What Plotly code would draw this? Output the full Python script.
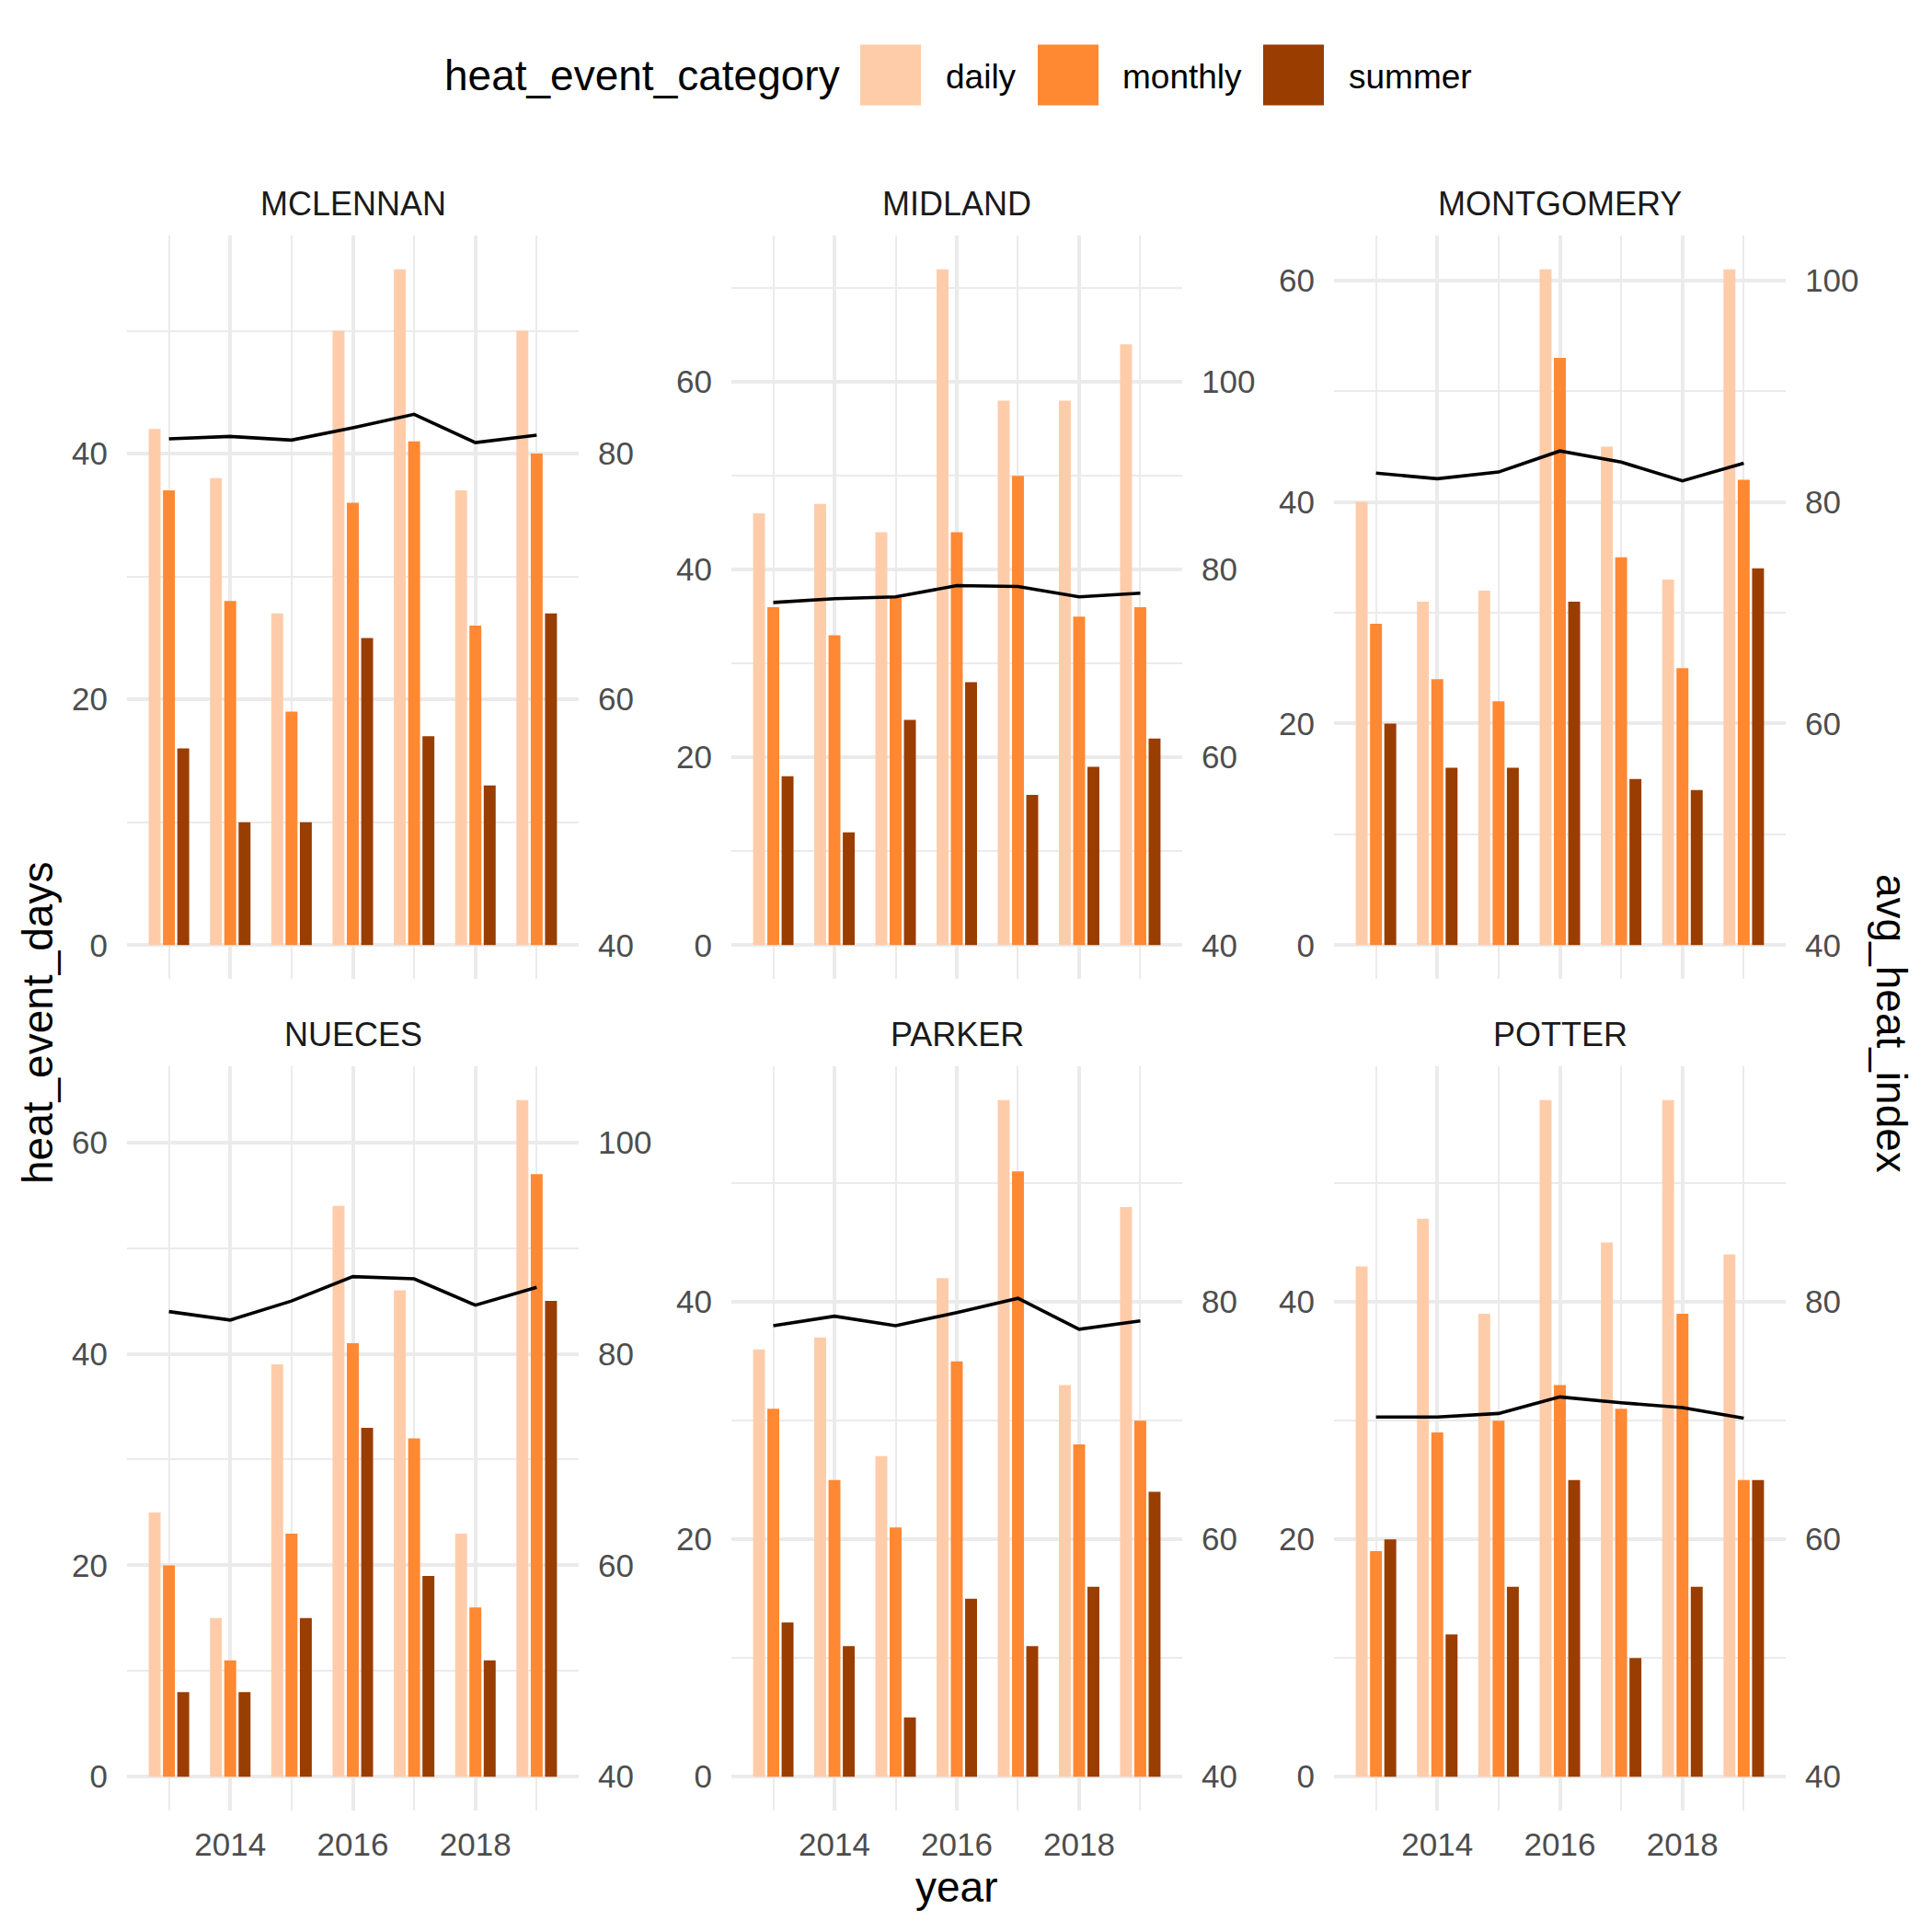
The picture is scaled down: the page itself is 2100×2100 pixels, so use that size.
import plotly.graph_objects as go

# ---------------- data ----------------
years = [2013, 2014, 2015, 2016, 2017, 2018, 2019]
counties = ["MCLENNAN", "MIDLAND", "MONTGOMERY", "NUECES", "PARKER", "POTTER"]
categories = ["daily", "monthly", "summer"]
category_colors = ["#FFCCAA", "#FF8833", "#993D00"]

daily_days = {
    "MCLENNAN":   [42, 38, 27, 50, 55, 37, 50],
    "MIDLAND":    [46, 47, 44, 72, 58, 58, 64],
    "MONTGOMERY": [40, 31, 32, 61, 45, 33, 61],
    "NUECES":     [25, 15, 39, 54, 46, 23, 64],
    "PARKER":     [36, 37, 27, 42, 57, 33, 48],
    "POTTER":     [43, 47, 39, 57, 45, 57, 44],
}
monthly_days = {
    "MCLENNAN":   [37, 28, 19, 36, 41, 26, 40],
    "MIDLAND":    [36, 33, 37, 44, 50, 35, 36],
    "MONTGOMERY": [29, 24, 22, 53, 35, 25, 42],
    "NUECES":     [20, 11, 23, 41, 32, 16, 57],
    "PARKER":     [31, 25, 21, 35, 51, 28, 30],
    "POTTER":     [19, 29, 30, 33, 31, 39, 25],
}
summer_days = {
    "MCLENNAN":   [16, 10, 10, 25, 17, 13, 27],
    "MIDLAND":    [18, 12, 24, 28, 16, 19, 22],
    "MONTGOMERY": [20, 16, 16, 31, 15, 14, 34],
    "NUECES":     [8, 8, 15, 33, 19, 11, 45],
    "PARKER":     [13, 11, 5, 15, 11, 16, 24],
    "POTTER":     [20, 12, 16, 25, 10, 16, 25],
}
avg_heat_index = {
    "MCLENNAN":   [81.2, 81.4, 81.1, 82.1, 83.2, 80.9, 81.5],
    "MIDLAND":    [76.5, 76.9, 77.1, 78.3, 78.2, 77.1, 77.5],
    "MONTGOMERY": [82.6, 82.1, 82.7, 84.6, 83.6, 81.9, 83.5],
    "NUECES":     [84.0, 83.2, 85.0, 87.3, 87.1, 84.6, 86.3],
    "PARKER":     [78.0, 78.8, 78.0, 79.1, 80.3, 77.7, 78.4],
    "POTTER":     [70.3, 70.3, 70.6, 72.0, 71.5, 71.1, 70.2],
}
sec_offset = 40  # secondary axis = primary + 40

# ---------------- layout helpers ----------------
W = H = 2100
FONT = "Liberation Sans"
GRID = "#EBEBEB"
TICKC = "#4D4D4D"

col_px = [(138, 629), (795, 1285), (1450, 1941)]
row_px = [(256, 1064), (1159, 1968)]


def py(p):
    return 1 - p / H


def pxx(p):
    return p / W


series = [daily_days, monthly_days, summer_days]

fig = go.Figure()

x_lo = min(years) - 0.35
x_hi = max(years) + 0.35
x_pad = 0.05 * (x_hi - x_lo)
x_range = [x_lo - x_pad, x_hi + x_pad]

layout = {}
annotations = []
for i, county in enumerate(counties):
    n = i + 1
    r, c = divmod(i, 3)
    xa = "x" if n == 1 else f"x{n}"
    ya = "y" if n == 1 else f"y{n}"
    ys = f"y{n + 6}"
    for cat, data, color in zip(categories, series, category_colors):
        fig.add_trace(go.Bar(
            x=years, y=data[county], name=cat, marker_color=color,
            marker_line_width=0, xaxis=xa, yaxis=ya, showlegend=False,
        ))
    fig.add_trace(go.Scatter(
        x=years, y=avg_heat_index[county], mode="lines",
        line=dict(color="black", width=3.6), xaxis=xa, yaxis=ys,
        showlegend=False, name="avg_heat_index",
    ))

    m = max(max(daily_days[county]), max(monthly_days[county]),
            max(summer_days[county]),
            max(avg_heat_index[county]) - sec_offset)
    y_range = [-0.05 * m, 1.05 * m]

    x0, x1 = col_px[c]
    y0, y1 = row_px[r]
    xkey = "xaxis" if n == 1 else f"xaxis{n}"
    ykey = "yaxis" if n == 1 else f"yaxis{n}"
    layout[xkey] = dict(
        domain=[pxx(x0), pxx(x1)], anchor=ya, range=x_range,
        tick0=2014, dtick=2, showgrid=True, gridcolor=GRID, gridwidth=3.6,
        minor=dict(tick0=2013, dtick=1, showgrid=True, gridcolor=GRID,
                   gridwidth=1.8, ticks=""),
        showticklabels=(r == 1), ticks="", zeroline=False, showline=False,
        tickfont=dict(family=FONT, size=35, color=TICKC),
        ticklabelstandoff=13,
    )
    layout[ykey] = dict(
        domain=[py(y1), py(y0)], anchor=xa, range=y_range,
        tick0=0, dtick=20, showgrid=True, gridcolor=GRID, gridwidth=3.6,
        minor=dict(tick0=0, dtick=10, showgrid=True, gridcolor=GRID,
                   gridwidth=1.8, ticks=""),
        ticks="", zeroline=False, showline=False,
        tickfont=dict(family=FONT, size=35, color=TICKC),
        ticklabelstandoff=20,
    )
    layout[f"yaxis{n + 6}"] = dict(
        overlaying=ya, anchor=xa, side="right",
        range=[y_range[0] + sec_offset, y_range[1] + sec_offset],
        tick0=0, dtick=20, showgrid=False, ticks="", zeroline=False,
        showline=False, tickfont=dict(family=FONT, size=35, color=TICKC),
        ticklabelstandoff=20,
    )
    # strip title
    annotations.append(dict(
        text=county, x=pxx((x0 + x1) / 2), y=py(221 if r == 0 else 1124.5),
        xref="paper", yref="paper", showarrow=False,
        xanchor="center", yanchor="middle",
        font=dict(family=FONT, size=36, color="#1A1A1A"),
    ))

# axis titles
annotations.append(dict(text="year", x=pxx(1039.5), y=py(2051), xref="paper",
                        yref="paper", showarrow=False, xanchor="center",
                        yanchor="middle",
                        font=dict(family=FONT, size=46, color="black")))
annotations.append(dict(text="heat_event_days", x=pxx(41), y=py(1112),
                        xref="paper", yref="paper", showarrow=False,
                        textangle=-90, xanchor="center", yanchor="middle",
                        font=dict(family=FONT, size=46, color="black")))
annotations.append(dict(text="avg_heat_index", x=pxx(2056), y=py(1112),
                        xref="paper", yref="paper", showarrow=False,
                        textangle=90, xanchor="center", yanchor="middle",
                        font=dict(family=FONT, size=46, color="black")))

# manual legend
legend_y = 81.5
annotations.append(dict(text="heat_event_category", x=pxx(481), y=py(legend_y),
                        xref="paper", yref="paper", showarrow=False,
                        xanchor="left", yanchor="middle",
                        font=dict(family=FONT, size=46, color="black")))
shapes = []
key_x = [935, 1128, 1373]
label_x = [1026, 1218, 1464]
for cat, color, kx, lx in zip(categories, category_colors, key_x, label_x):
    shapes.append(dict(type="rect", xref="paper", yref="paper",
                       x0=pxx(kx), x1=pxx(kx + 66),
                       y0=py(legend_y + 33), y1=py(legend_y - 33),
                       fillcolor=color, line=dict(width=0)))
    annotations.append(dict(text=cat, x=pxx(lx), y=py(legend_y + 2), xref="paper",
                            yref="paper", showarrow=False, xanchor="left",
                            yanchor="middle",
                            font=dict(family=FONT, size=37, color="black")))

fig.update_layout(
    width=W, height=H, margin=dict(l=0, r=0, t=0, b=0),
    paper_bgcolor="white", plot_bgcolor="white",
    barmode="group", bargap=0.3, bargroupgap=0.167,
    showlegend=False, annotations=annotations, shapes=shapes,
    font=dict(family=FONT),
    **layout,
)

fig.write_html("out.html")
